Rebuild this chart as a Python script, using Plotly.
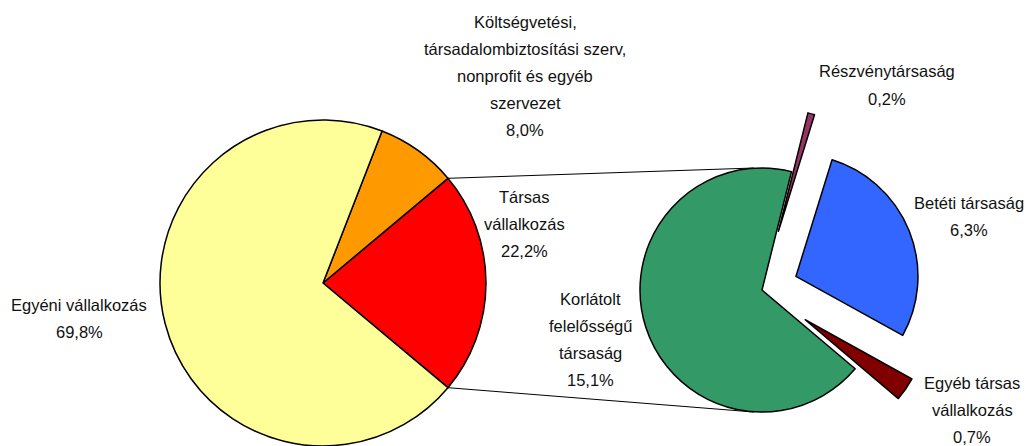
import math
import plotly.graph_objects as go

# ---------------- data ----------------
main_labels = ["Társas vállalkozás",
               "Költségvetési, társadalombiztosítási szerv, nonprofit és egyéb szervezet",
               "Egyéni vállalkozás"]
main_values = [22.2, 8.0, 69.8]
main_colors = ["#FF0000", "#FF9900", "#FFFF99"]
main_text = [["Társas", "vállalkozás"],
             ["Költségvetési,", "társadalombiztosítási szerv,", "nonprofit és egyéb", "szervezet"],
             ["Egyéni vállalkozás"]]

sub_labels = ["Részvénytársaság", "Betéti társaság",
              "Egyéb társas vállalkozás", "Korlátolt felelősségű társaság"]
sub_values = [0.2, 6.3, 0.7, 15.1]
sub_colors = ["#993366", "#3366FF", "#800000", "#339966"]
sub_pull = [0.5, 0.3, 0.43, 0.0]
sub_text = [["Részvénytársaság"], ["Betéti társaság"],
            ["Egyéb társas", "vállalkozás"], ["Korlátolt", "felelősségű", "társaság"]]

# ---------------- layout geometry (pixels) ----------------
W, H = 1027, 480
L_CX, L_CY, L_R = 323, 283, 163
R_CX, R_CY, R_R = 762, 290, 122
FONT = "Liberation Sans, Arial, sans-serif"
FSIZE = 16.5
PITCH = 27


def px_x(x):
    return x / W


def px_y(y):
    return 1 - y / H


def fmt(v):
    return f"{v:.1f}".replace(".", ",") + "%"


red_span = main_values[0] / sum(main_values) * 360
main_rotation = 90 - red_span / 2

max_pull = max(sub_pull)
half = R_R * (1 + max_pull)

fig = go.Figure()
fig.add_trace(go.Pie(
    labels=main_labels, values=main_values, sort=False,
    direction="counterclockwise", rotation=main_rotation,
    marker=dict(colors=main_colors, line=dict(color="black", width=1.5)),
    textinfo="none", hoverinfo="label+percent", showlegend=False,
    domain=dict(x=[px_x(L_CX - L_R), px_x(L_CX + L_R)],
                y=[px_y(L_CY + L_R), px_y(L_CY - L_R)]),
))
fig.add_trace(go.Pie(
    labels=sub_labels, values=sub_values, sort=False,
    direction="clockwise", rotation=14, pull=sub_pull,
    marker=dict(colors=sub_colors, line=dict(color="black", width=1.5)),
    textinfo="none", hoverinfo="label+value", showlegend=False,
    domain=dict(x=[px_x(R_CX - half), px_x(R_CX + half)],
                y=[px_y(R_CY + half), px_y(R_CY - half)]),
))

# connector lines from the edges of the red slice to the second pie
for ang, ty in [(90 - red_span / 2, R_CY - R_R), (90 + red_span / 2, R_CY + R_R)]:
    a = math.radians(ang)
    x0 = L_CX + L_R * math.sin(a)
    y0 = L_CY - L_R * math.cos(a)
    fig.add_shape(type="line", xref="paper", yref="paper",
                  x0=px_x(x0), y0=px_y(y0), x1=px_x(R_CX - 8), y1=px_y(ty),
                  line=dict(color="black", width=1))

# labels (one annotation per line, centred on the label block)
label_pos = [
    (main_text[0] + [fmt(main_values[0])], 524, 224),
    (main_text[1] + [fmt(main_values[1])], 525, 76),
    (main_text[2] + [fmt(main_values[2])], 79, 318),
    (sub_text[0] + [fmt(sub_values[0])], 887, 85),
    (sub_text[1] + [fmt(sub_values[1])], 969, 216),
    (sub_text[2] + [fmt(sub_values[2])], 972, 410),
    (sub_text[3] + [fmt(sub_values[3])], 590, 339),
]
for lines, x, y in label_pos:
    n = len(lines)
    for i, line in enumerate(lines):
        yy = y + (i - (n - 1) / 2) * PITCH
        fig.add_annotation(text=line, x=px_x(x), y=px_y(yy), xref="paper", yref="paper",
                           xanchor="center", yanchor="middle", align="center",
                           showarrow=False,
                           font=dict(family=FONT, size=FSIZE, color="#111111"))

fig.update_layout(width=W, height=H, margin=dict(l=0, r=0, t=0, b=0),
                  paper_bgcolor="white", plot_bgcolor="white")

fig.write_html("out.html", config={"displayModeBar": False},
               post_script="document.body.style.margin='0';"
                           "document.body.style.overflow='hidden';"
                           "document.documentElement.style.overflow='hidden';")
